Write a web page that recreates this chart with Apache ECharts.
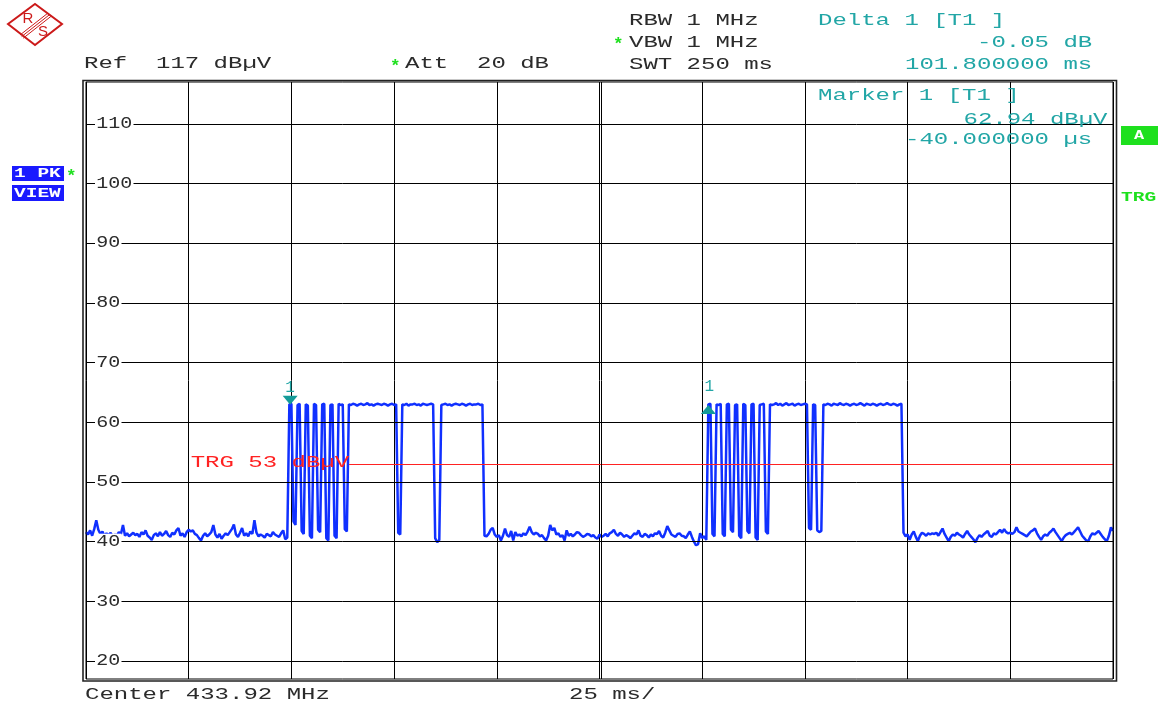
<!DOCTYPE html>
<html><head><meta charset="utf-8">
<script src="https://cdn.jsdelivr.net/npm/echarts@6/dist/echarts.min.js"></script>
<style>html,body{margin:0;padding:0;background:#fff;}#c{width:1161px;height:709px;}</style>
</head><body><div id="c"></div>
<script>
// ---- sweep settings ----
const sweepMs = 250;          // total sweep time
const timeDiv = 25;           // ms per division
const stepMs = 0.5;           // sweep point spacing (501 points)
const yMin = 17, yMax = 117;  // ref level 117 dBµV, 100 dB range
const yTicks = [20, 30, 40, 50, 60, 70, 80, 90, 100, 110];
const trgLevel = 53;
const markerTimes = [49.7, 151.5];
const markerLevels = [62.94, 62.89];

// trace level readings (dBµV), segment start indices in sweep points
const segStarts = [0, 99, 194, 303, 398];
const noiseBefore = [
  41.6, 41.2, 41.9, 41.0, 42.1, 43.6, 42.0, 41.3, 41.7, 40.9,
  41.4, 41.1, 41.5, 40.8, 41.2, 41.0, 41.6, 41.3, 42.8, 41.0,
  41.4, 40.9, 41.2, 41.5, 41.1, 41.3, 40.8, 41.6, 41.2, 41.9,
  41.0, 40.7, 40.3, 41.1, 41.4, 40.9, 41.6, 41.0, 41.3, 41.8,
  41.1, 40.8, 41.5, 41.2, 41.9, 42.3, 41.0, 41.4, 40.8, 41.6,
  42.0, 41.7, 41.9, 41.3, 41.1, 40.6, 40.2, 41.0, 41.4, 40.9,
  41.2, 41.6, 42.8, 41.2, 40.7, 41.3, 40.5, 41.0, 41.4, 41.1,
  41.6, 42.1, 42.9, 41.2, 40.8, 41.5, 42.3, 41.0, 41.4, 40.9,
  41.7, 41.3, 43.6, 41.5, 40.9, 41.2, 41.0, 40.7, 41.3, 41.1,
  40.9, 41.6, 41.2, 41.0, 40.8, 41.4, 41.9, 40.4, 40.7
];
const burst1 = [
  63.0, 63.1, 43.4, 42.8, 62.9, 63.1, 41.8, 41.3, 63.0, 62.8,
  41.0, 40.6, 63.1, 62.9, 42.0, 41.6, 63.0, 63.1, 40.6, 40.2,
  62.9, 63.0, 41.0, 40.6, 63.1, 62.9, 63.0, 42.1, 41.7,
  63.0, 62.9, 63.1, 63.0, 62.8, 63.0, 63.1, 62.9, 63.0, 63.2, 62.9, 63.0,
  62.8, 63.0, 63.1, 63.0, 62.9, 63.1, 63.0, 62.8, 63.0, 63.1, 62.9, 63.0,
  41.5, 41.2,
  63.0, 62.9, 63.1, 62.8, 63.0, 63.0, 63.1, 62.9, 63.0, 62.8, 63.1, 63.0, 62.9, 63.0, 63.1, 63.0,
  40.6, 39.9, 40.3,
  62.9, 63.0, 63.1, 62.9, 63.0, 62.8, 63.0, 63.1, 63.0, 62.9, 63.1, 63.0, 62.8, 63.0, 63.1, 62.9, 63.0, 63.0, 63.1, 62.9, 63.0
];
const noiseBetween = [
  41.0, 40.9, 41.3, 42.0, 42.3, 41.2, 40.8, 41.1, 40.2, 41.0,
  42.2, 41.1, 40.8, 41.8, 40.2, 41.6, 41.0, 41.2, 40.9, 41.4,
  41.1, 41.7, 42.5, 41.6, 41.2, 41.5, 41.3, 40.9, 41.1, 40.6,
  40.2, 41.0, 42.8, 41.9, 42.3, 41.2, 41.4, 40.8, 41.1, 40.2,
  41.9, 41.0, 41.3, 40.9, 41.2, 41.6, 41.5, 41.1, 40.8, 41.0,
  41.3, 41.2, 40.9, 41.1, 40.7, 40.5, 41.2, 40.8, 41.0, 41.3,
  40.9, 41.4, 41.6, 42.0, 41.3, 41.0, 41.5, 41.2, 40.8, 41.1,
  40.9, 40.6, 41.0, 41.4, 41.2, 41.9, 41.0, 40.8, 41.3, 41.1,
  40.7, 41.2, 40.9, 41.4, 41.3, 41.8, 41.0, 40.7, 41.5, 42.6,
  41.9, 41.2, 41.0, 40.8, 41.3, 41.4, 41.0, 40.9, 40.6, 41.2,
  41.7, 40.8, 40.0, 39.4, 39.6, 41.4, 40.6, 40.9, 40.3
];
const burst2 = [
  63.0, 63.1, 41.3, 40.9, 63.0, 62.9, 63.1, 41.3, 40.9, 63.0,
  63.1, 42.0, 41.6, 62.9, 63.0, 41.0, 40.6, 63.1, 62.9, 41.8,
  41.4, 63.0, 63.1, 40.7, 40.3, 62.9, 63.0, 63.1, 41.7, 41.3,
  63.0, 62.9, 63.0, 63.2, 62.9, 63.1, 62.8, 63.0, 63.2, 62.9, 63.0, 63.1, 62.8, 63.0, 63.1, 62.9, 63.0, 63.1, 63.0,
  42.3, 42.0, 63.0, 62.9, 41.9, 41.6, 41.8,
  63.0, 62.9, 63.1, 63.0, 62.8, 63.1, 63.0, 62.9, 63.2, 63.0,
  62.9, 63.1, 63.0, 62.8, 63.0, 63.1, 62.9, 63.0, 63.2, 63.0,
  62.8, 63.1, 63.0, 62.9, 63.1, 63.0, 62.8, 63.0, 63.1, 62.9,
  63.0, 63.2, 63.0, 62.9, 63.1, 63.0, 62.8, 63.0, 63.1
];
const noiseAfter = [
  41.5, 40.9, 41.2, 40.3, 41.2, 41.7, 40.8, 40.1, 41.0, 41.5,
  41.3, 41.0, 41.4, 41.2, 41.4, 41.3, 41.5, 41.0, 41.6, 42.2,
  41.3, 40.7, 40.1, 40.8, 41.2, 41.0, 41.5, 41.2, 41.0, 40.7,
  41.3, 41.8, 41.2, 40.8, 40.4, 39.9, 40.6, 41.1, 40.8, 41.2,
  41.5, 41.8, 41.0, 40.8, 41.4, 41.2, 41.6, 42.0, 41.5, 42.1,
  41.6, 41.4, 41.5, 41.3, 41.6, 42.4, 41.7, 41.5, 41.3, 41.1,
  40.9, 41.3, 41.7, 41.9, 42.2, 41.4, 40.8, 40.3, 40.9, 41.2,
  41.0, 41.5, 41.8, 42.2, 41.6, 41.1, 40.6, 40.1, 40.7, 41.1,
  41.3, 41.5, 41.2, 41.6, 42.0, 42.4, 41.7, 41.0, 40.6, 40.2,
  40.1, 40.9, 41.4, 41.2, 41.5, 41.8, 41.3, 40.8, 40.4, 40.1,
  41.0, 42.4, 41.8
];

const segments = [noiseBefore, burst1, noiseBetween, burst2, noiseAfter];
const traceData = [];
segments.forEach((seg, k) => seg.forEach((v, j) => traceData.push([(segStarts[k] + j) * stepMs, v])));

const MONO = '"Liberation Mono", "Courier New", monospace';
const DARK = '#2b2b2b', TEAL = '#22a6a6', RED = '#ff2222', GREEN = '#1ee01e', BLUE = '#1a1aff';

const chart = echarts.init(document.getElementById('c'), null, {renderer: 'canvas'});
chart.setOption({
  animation: false,
  backgroundColor: '#fff',
  grid: {left: 86, right: 48, top: 82, bottom: 30, show: false},
  xAxis: {type: 'value', min: 0, max: sweepMs, interval: timeDiv,
    axisLine: {show: false}, axisTick: {show: false}, axisLabel: {show: false},
    splitLine: {show: true, lineStyle: {color: '#000', width: 1}}},
  yAxis: {type: 'value', min: yMin, max: yMax,
    axisLine: {show: false}, axisTick: {show: false}, axisLabel: {show: false}, splitLine: {show: false}},
  series: [
    {id: 'grid', type: 'line', data: [], z: 1, silent: true,
      markLine: {silent: true, animation: false, symbol: ['none', 'none'], label: {show: false},
        lineStyle: {color: '#000', width: 1, type: 'solid'},
        data: yTicks.map(v => ({yAxis: v}))}},
    {id: 'trace', type: 'line', data: traceData, z: 3, showSymbol: false, symbol: 'none', silent: true,
      lineStyle: {color: '#1030ff', width: 2.5},
      markPoint: {silent: true, animation: false,
        data: [
          {coord: [markerTimes[0], markerLevels[0]], symbol: 'triangle', symbolRotate: 180, symbolSize: [15, 9], symbolOffset: [0, -4.5],
            itemStyle: {color: '#149b98'},
            label: {show: true, formatter: '1', position: 'top', distance: 0, color: TEAL, fontSize: 16, fontFamily: MONO}},
          {coord: [markerTimes[1], markerLevels[1]], symbol: 'triangle', symbolSize: [15, 9], symbolOffset: [0, 4.5],
            itemStyle: {color: '#149b98'},
            label: {show: true, formatter: '1', position: 'top', distance: 10, offset: [1, 0], color: TEAL, fontSize: 16, fontFamily: MONO}}
        ]}}
  ]
});

function T(x, y, text, color, o) {
  o = o || {};
  const font = (o.bold ? 'bold ' : '') + (o.size || 16) + 'px ' + MONO;
  const st = {text: text, fill: color, font: font, textAlign: o.align || 'left', textVerticalAlign: 'middle',
    align: o.align || 'left', verticalAlign: 'middle'};
  if (o.bg) { st.backgroundColor = o.bg; st.padding = o.pad || [0, 1]; }
  return {type: 'text', x: x, y: y, scaleX: o.sx || 1.5, z: o.z || 100, silent: true, style: st};
}
function measure(text, font) {
  const ctx = document.createElement('canvas').getContext('2d');
  ctx.font = font; return ctx.measureText(text).width;
}

const g = [];
// R&S logo
g.push({type: 'polygon', z: 100, silent: true, shape: {points: [[8, 24], [35, 4], [62, 24], [35, 45]]},
  style: {fill: 'none', stroke: '#cc1a1a', lineWidth: 2}});
[[0, 0], [1.6, 1.6], [3.2, 3.2]].forEach(d => g.push({type: 'line', z: 100, silent: true,
  shape: {x1: 20 + d[0], y1: 35 + d[1], x2: 48 + d[0], y2: 13 + d[1]}, style: {stroke: '#cc1a1a', lineWidth: 1}}));
g.push({type: 'text', x: 28, y: 19, z: 101, silent: true, style: {text: 'R', fill: '#cc1a1a', font: '15px "Liberation Sans", sans-serif', textAlign: 'center', textVerticalAlign: 'middle', align: 'center', verticalAlign: 'middle'}});
g.push({type: 'text', x: 43, y: 32, z: 101, silent: true, style: {text: 'S', fill: '#cc1a1a', font: '15px "Liberation Sans", sans-serif', textAlign: 'center', textVerticalAlign: 'middle', align: 'center', verticalAlign: 'middle'}});

// header
g.push(T(84, 64, 'Ref  ' + yMax + ' dBµV', DARK));
g.push(T(390, 67, '*', GREEN, {size: 16, bold: true, sx: 1.1}));
g.push(T(405, 64, 'Att  20 dB', DARK));
g.push(T(613, 45, '*', GREEN, {size: 16, bold: true, sx: 1.1}));
g.push(T(629, 21, 'RBW 1 MHz', DARK));
g.push(T(629, 42.7, 'VBW 1 MHz', DARK));
g.push(T(629, 64.3, 'SWT 250 ms', DARK));
g.push(T(818, 21, 'Delta 1 [T1 ]', TEAL));
g.push(T(977, 42.7, '-0.05 dB', TEAL));
g.push(T(905, 64.3, '101.800000 ms', TEAL));
g.push(T(818, 95.7, 'Marker 1 [T1 ]', TEAL));
g.push(T(963.5, 119.3, '62.94 dBµV', TEAL));
g.push(T(905, 140, '-40.000000 µs', TEAL));
// footer
g.push(T(85, 695, 'Center 433.92 MHz', DARK));
g.push(T(569, 695, timeDiv + ' ms/', DARK));

// left side boxes
g.push({type: 'rect', z: 100, silent: true, shape: {x: 12, y: 166, width: 52, height: 15}, style: {fill: BLUE}});
g.push({type: 'rect', z: 100, silent: true, shape: {x: 12, y: 185, width: 52, height: 16}, style: {fill: BLUE}});
g.push(T(14, 174, '1 PK', '#fff', {size: 13, bold: true, sx: 1.5, z: 101}));
g.push(T(14, 193.5, 'VIEW', '#fff', {size: 13, bold: true, sx: 1.5, z: 101}));
g.push(T(66, 177, '*', GREEN, {size: 16, bold: true, sx: 1.1}));
// right side
g.push({type: 'rect', z: 100, silent: true, shape: {x: 1121, y: 126, width: 37, height: 19}, style: {fill: GREEN}});
g.push(T(1134, 135.5, 'A', '#fff', {size: 13, bold: true, sx: 1.3, z: 101}));
g.push(T(1121, 198, 'TRG', GREEN, {size: 13, bold: true, sx: 1.5}));

// frame
const x0 = chart.convertToPixel({xAxisIndex: 0}, 0);
const x1 = chart.convertToPixel({xAxisIndex: 0}, sweepMs);
const yTop = chart.convertToPixel({yAxisIndex: 0}, yMax);
const yBot = chart.convertToPixel({yAxisIndex: 0}, yMin);
g.push({type: 'rect', z: 90, silent: true, shape: {x: x0 - 3, y: yTop - 1.5, width: (x1 - x0) + 6.5, height: (yBot - yTop) + 3.5},
  style: {fill: 'none', stroke: '#222', lineWidth: 1.6}});
g.push({type: 'rect', z: 90, silent: true, shape: {x: x0, y: yTop, width: x1 - x0, height: yBot - yTop},
  style: {fill: 'none', stroke: '#000', lineWidth: 1}});
const xc = chart.convertToPixel({xAxisIndex: 0}, sweepMs / 2);
g.push({type: 'line', z: 5, silent: true, shape: {x1: xc + 2, y1: yTop, x2: xc + 2, y2: yBot}, style: {stroke: '#000', lineWidth: 1}});

// y tick labels (positions from the axis scale)
yTicks.forEach(v => {
  const py = chart.convertToPixel({yAxisIndex: 0}, v);
  g.push(T(x0 + 9, py, String(v), DARK, {sx: 1.25, bg: '#fff', pad: [0, 1], z: 95}));
});

// trigger label + line
const trgText = 'TRG ' + trgLevel + ' dBµV';
const trgX = chart.convertToPixel({xAxisIndex: 0}, timeDiv) + 2;
const trgY = chart.convertToPixel({yAxisIndex: 0}, trgLevel);
g.push(T(trgX, trgY - 1, trgText, RED, {z: 110}));
const trgEnd = trgX + measure(trgText, '16px ' + MONO) * 1.5;
const trgStartT = chart.convertFromPixel({xAxisIndex: 0}, trgEnd);

chart.setOption({
  graphic: g,
  series: [{id: 'grid'}, {id: 'trace'},
    {id: 'trg', type: 'line', data: [], z: 4, silent: true,
      markLine: {silent: true, animation: false, symbol: ['none', 'none'], label: {show: false},
        lineStyle: {color: RED, width: 1, type: 'solid'},
        data: [[{coord: [trgStartT, trgLevel]}, {coord: [sweepMs, trgLevel]}]]}}]
});
</script>
</body></html>
